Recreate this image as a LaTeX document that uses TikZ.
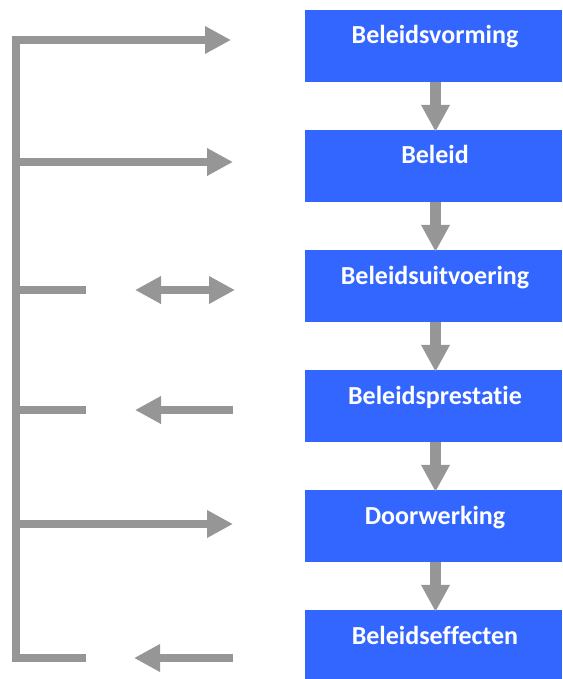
\documentclass[tikz,border=0pt]{standalone}
\usepackage{fontspec}
\setmainfont{Carlito}[Ligatures=NoCommon]
\usetikzlibrary{arrows.meta}
\definecolor{boxblue}{HTML}{3366FF}
\definecolor{arrgray}{HTML}{969696}
\tikzset{
  stage/.style={rectangle, fill=boxblue, draw=none, inner sep=0pt, minimum width=257pt, minimum height=72pt},
  lbl/.style={text=white, font=\bfseries\fontsize{26}{31}\selectfont, inner sep=0pt, anchor=base},
  dnarrow/.style={draw=arrgray, line width=11pt, -{Triangle[length=27pt,width=27pt]}},
  gline/.style={draw=arrgray, line width=8pt, line join=miter},
  garrow/.style={gline, -{Triangle[length=26pt,width=26pt]}},
  gdarrow/.style={gline, {Triangle[length=26pt,width=26pt]}-{Triangle[length=26pt,width=26pt]}}
}
\begin{document}
\begin{tikzpicture}[x=1pt,y=-1pt]
\useasboundingbox (0,0) rectangle (562,679);
% stages
\node[stage] (b1) at (433.5,46) {};
\node[stage] (b2) at (433.5,166) {};
\node[stage] (b3) at (433.5,286) {};
\node[stage] (b4) at (433.5,406) {};
\node[stage] (b5) at (433.5,526) {};
\node[stage, minimum height=69pt] (b6) at (433.5,644.5) {};
\node[lbl] (t1) at (435,44) {Beleidsvorming};
\node[lbl] (t2) at (435,164) {Beleid};
\node[lbl] (t3) at (435,284) {Beleidsuitvoering};
\node[lbl] (t4) at (435,404) {Beleidsprestatie};
\node[lbl] (t5) at (435,524) {Doorwerking};
\node[lbl] (t6) at (435,644) {Beleidseffecten};
% down arrows
\foreach \a/\b in {b1/b2,b2/b3,b3/b4,b4/b5,b5/b6}{
  \draw[dnarrow] ([xshift=2pt]\a.south) -- ([xshift=2pt,yshift=-2pt]\b.north);
}
% left structure coordinates
\coordinate (c1) at (16,40);   \coordinate (e1) at (231,40);
\coordinate (c2) at (16,162);  \coordinate (e2) at (233,162);
\coordinate (c3) at (16,290);  \coordinate (s3) at (86,290);
\coordinate (d3a) at (135,290); \coordinate (d3b) at (235,290);
\coordinate (c4) at (16,410);  \coordinate (s4) at (86,410);
\coordinate (d4a) at (233,410); \coordinate (d4b) at (135,410);
\coordinate (c5) at (16,524);  \coordinate (e5) at (233,524);
\coordinate (c6) at (16,658);  \coordinate (s6) at (86,658);
\coordinate (d6a) at (233,658); \coordinate (d6b) at (134,658);
% main bracket
\draw[garrow] (s6) -- (c6) -- (c1) -- (e1);
\draw[garrow] (c2) -- (e2);
\draw[gline] (c3) -- (s3);
\draw[gdarrow] (d3a) -- (d3b);
\draw[gline] (c4) -- (s4);
\draw[garrow] (d4a) -- (d4b);
\draw[garrow] (c5) -- (e5);
\draw[garrow] (d6a) -- (d6b);
\end{tikzpicture}
\end{document}
